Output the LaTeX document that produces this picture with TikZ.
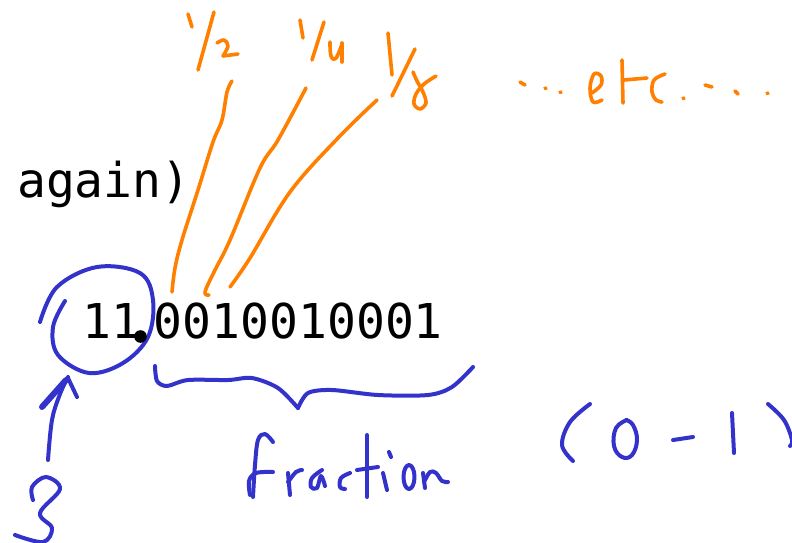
\documentclass[tikz,border=0pt]{standalone}
\usepackage{fontspec}
\newfontfamily\codefont{DejaVu Sans Mono}
\definecolor{penorange}{RGB}{255,128,0}
\definecolor{penblue}{RGB}{51,51,204}
\tikzset{
  typed/.style={inner sep=0pt, anchor=base west, font=\codefont\fontsize{48}{58}\selectfont},
  orangeink/.style={draw=penorange, line width=3.6pt, line cap=round, line join=round},
  blueink/.style={draw=penblue, line width=4pt, line cap=round, line join=round},
}
\begin{document}
\begin{tikzpicture}[x=1pt,y=-1pt]
\useasboundingbox (0,0) rectangle (792,542);
% typed text
\node[typed] (again) at (17,197) {again)};
\node[typed] (intpart) at (82,338) {11};
\node[typed] (fracpart) at (153.7,338) {0010010001};

% orange: 1/2
\draw[orangeink] (188,14) -- (192,27);
\draw[orangeink] (214,12) -- (198,70);
\draw[orangeink] plot[smooth, tension=0.6] coordinates {(217,43) (224,40) (228,46) (223,56)} -- (238,54);
% 1/4
\draw[orangeink] (300,20) -- (303,38);
\draw[orangeink] (324,22) -- (312,60);
\draw[orangeink] plot[smooth, tension=0.7] coordinates {(330,42) (331,56) (336,58) (342,44)};
\draw[orangeink] (342,43) -- (342,62);
% 1/8
\draw[orangeink] (388,33) -- (392,75);
\draw[orangeink] (415,49) -- (392,96);
\draw[orangeink] plot[smooth, tension=0.55] coordinates {(436,76) (424,84) (416,94) (414,104) (420,109) (426,103) (423,92) (417,81) (413,72)};
% leader lines
\draw[orangeink] plot[smooth, tension=0.6] coordinates {(232,81) (227,92) (222,120) (213,142) (198,190) (182,240) (175,268) (172,292)};
\draw[orangeink] plot[smooth, tension=0.6] coordinates {(306,88) (278,140) (260,168) (230,240) (214,272) (205,292) (209,295)};
\draw[orangeink] plot[smooth, tension=0.6] coordinates {(377,100) (338,138) (290,192) (250,258) (230,287)};
% ... etc ....
\draw[orangeink] (520,82) -- (525,85);
\draw[orangeink] (545,88) -- (546,88.5);
\draw[orangeink] (560,92) -- (561,92.5);
\draw[orangeink] plot[smooth, tension=0.6] coordinates {(592,93) (601,85) (601,76) (594,74) (590,88) (593,102) (602,100)};
\draw[orangeink] (622,60) -- (623,103);
\draw[orangeink] (624,80) -- (647,78);
\draw[orangeink] plot[smooth, tension=0.6] coordinates {(665,74) (654,80) (652,92) (656,100) (662,102)};
\draw[orangeink] (683,98) -- (684,98.5);
\draw[orangeink] (705,85) -- (712,87);
\draw[orangeink] (735,91) -- (738,94);
\draw[orangeink] (767,93) -- (768,93.5);

% blue: circle round 11
\draw[blueink] plot[smooth, tension=0.6] coordinates {(40,322) (57,287) (97,267) (140,273) (153,300) (148,337) (123,363) (89,373) (58,355) (53,327) (65,301)};
\fill (140.5,336.5) circle (6.3);
% arrow from 3
\draw[blueink] plot[smooth, tension=0.6] coordinates {(48,460) (52,420) (60,394) (68,377)};
\draw[blueink, line width=6pt] (42,407) -- (66,380);
\draw[blueink] (77,397) -- (68,378);
% 3
\draw[blueink] plot[smooth, tension=0.6] coordinates {(33,500) (32,487) (46,477) (60,489) (40,513) (52,528) (43,542) (15,535)};
% brace
\draw[blueink] plot[smooth, tension=0.5] coordinates {(155,366) (157,381) (167,386) (188,380) (228,380) (252,378) (278,388) (298,408)};
\draw[blueink] plot[smooth, tension=0.5] coordinates {(298,408) (308,393) (332,390) (378,395) (428,395) (452,387) (473,367)};
% fraction
\draw[blueink] plot[smooth, tension=0.6] coordinates {(273,442) (265,434) (258,440) (255,465) (253,497)};
\draw[blueink] plot[smooth, tension=0.6] coordinates {(250,495) (249,481) (256,473) (273,472)};
\draw[blueink] (288,473) -- (290,495);
\draw[blueink] plot[smooth, tension=0.6] coordinates {(288,482) (296,472) (302,470)};
\draw[blueink] plot[smooth, tension=0.6] coordinates {(322,470) (312,478) (311,487) (317,488) (321,476) (325,486)};
\draw[blueink] plot[smooth, tension=0.6] coordinates {(350,473) (341,478) (340,487) (345,489)};
\draw[blueink] (367,435) -- (367,497);
\draw[blueink] (357,470) -- (378,467);
\draw[blueink] (383,473) -- (387,490);
\draw[blueink] (389,452) -- (391,457);
\draw[blueink] (409,477) ellipse (5.5 and 12);
\draw[blueink] (423,473) -- (425,488);
\draw[blueink] plot[smooth, tension=0.6] coordinates {(424,482) (430,472) (436,473) (442,481) (448,482)};
% (0-1)
\draw[blueink] plot[smooth, tension=0.6] coordinates {(590,404) (570,422) (562,445) (573,461)};
\draw[blueink] plot[smooth, tension=0.7] coordinates {(627,420) (616,428) (614,446) (622,457) (632,455) (637,440) (633,425) (626,420)};
\draw[blueink] (673,440) -- (693,437);
\draw[blueink] (732,413) -- (734,453);
\draw[blueink] plot[smooth, tension=0.6] coordinates {(768,404) (784,420) (792,440) (790,446)};
\end{tikzpicture}
\end{document}
